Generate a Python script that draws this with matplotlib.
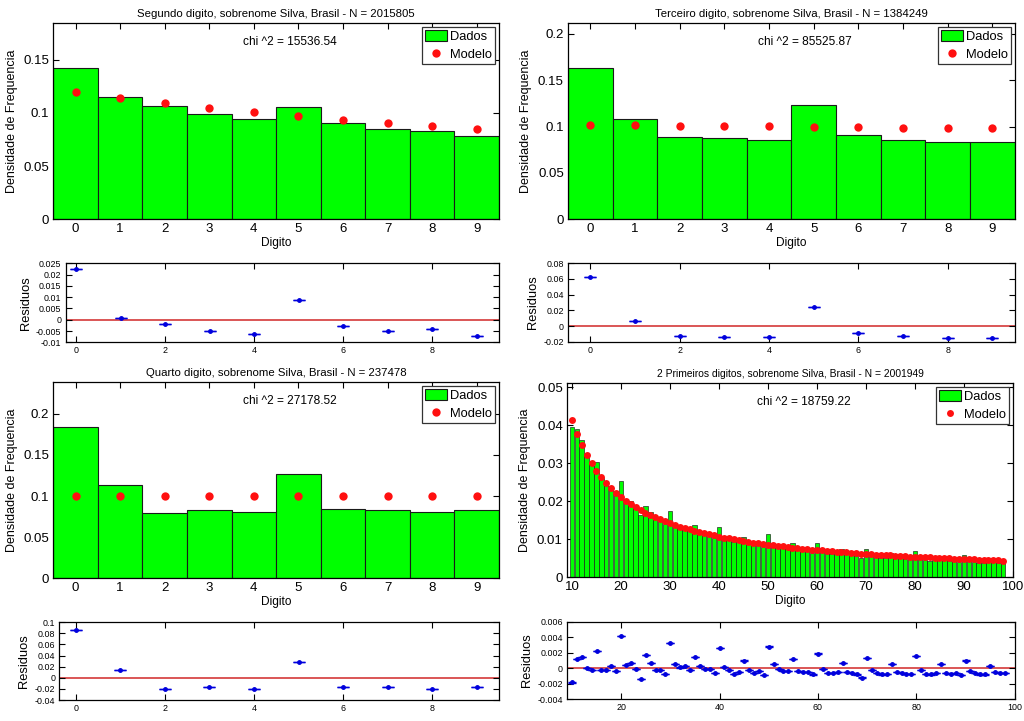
import numpy as np
import matplotlib
matplotlib.use("Agg")
import matplotlib.pyplot as plt
from matplotlib.ticker import FuncFormatter

plt.rcParams['font.family'] = ['Liberation Sans', 'DejaVu Sans']

digits = list(range(10))

# Segundo digito
seg_dados = [0.1419, 0.1146, 0.1068, 0.0993, 0.0939, 0.1052, 0.0905, 0.0852, 0.0830, 0.0780]
seg_modelo = [0.1197, 0.1139, 0.1088, 0.1043, 0.1003, 0.0967, 0.0934, 0.0904, 0.0876, 0.0850]
seg_resid = [0.0226, 0.0009, -0.0018, -0.0051, -0.0063, 0.0088, -0.0027, -0.0052, -0.0043, -0.0072]

# Terceiro digito
ter_dados = [0.1630, 0.1083, 0.0885, 0.0874, 0.0856, 0.1234, 0.0910, 0.0860, 0.0835, 0.0835]
ter_modelo = [0.1018, 0.1014, 0.1010, 0.1006, 0.1002, 0.0998, 0.0994, 0.0990, 0.0986, 0.0983]
ter_resid = [0.0620, 0.0068, -0.0128, -0.0137, -0.0145, 0.0240, -0.0086, -0.0133, -0.0150, -0.0150]

# Quarto digito
qua_dados = [0.1838, 0.1134, 0.0790, 0.0834, 0.0802, 0.1271, 0.0846, 0.0834, 0.0802, 0.0830]
qua_modelo = [0.1002, 0.1001, 0.1001, 0.1001, 0.1000, 0.1000, 0.0999, 0.0999, 0.0998, 0.0998]
qua_resid = [0.0855, 0.0133, -0.0210, -0.0169, -0.0199, 0.0277, -0.0163, -0.0169, -0.0205, -0.0169]

# 2 primeiros digitos (10..98)
pd_x = list(range(10, 99))
pd_dados = [
    0.03956, 0.03894, 0.03621, 0.03222, 0.02976, 0.03023, 0.02616, 0.02465, 0.02382, 0.02198,
    0.02539, 0.02067, 0.02001, 0.01838, 0.01637, 0.01873, 0.01707, 0.01559, 0.01504, 0.01395,
    0.01754, 0.01429, 0.01346, 0.01326, 0.01239, 0.01373, 0.01220, 0.01148, 0.01118, 0.01040,
    0.01332, 0.01067, 0.01002, 0.00928, 0.00926, 0.01055, 0.00914, 0.00854, 0.00856, 0.00787,
    0.01140, 0.00893, 0.00817, 0.00772, 0.00767, 0.00903, 0.00739, 0.00705, 0.00692, 0.00650,
    0.00908, 0.00701, 0.00635, 0.00624, 0.00623, 0.00733, 0.00603, 0.00583, 0.00554, 0.00505,
    0.00746, 0.00587, 0.00539, 0.00511, 0.00513, 0.00636, 0.00518, 0.00501, 0.00484, 0.00477,
    0.00700, 0.00513, 0.00457, 0.00441, 0.00455, 0.00559, 0.00443, 0.00427, 0.00432, 0.00396,
    0.00580, 0.00446, 0.00411, 0.00386, 0.00381, 0.00487, 0.00402, 0.00388, 0.00381]
pd_modelo = [
    0.04139, 0.03779, 0.03476, 0.03218, 0.02996, 0.02803, 0.02633, 0.02482, 0.02348, 0.02228,
    0.02119, 0.02020, 0.01931, 0.01848, 0.01773, 0.01703, 0.01639, 0.01579, 0.01524, 0.01472,
    0.01424, 0.01379, 0.01336, 0.01296, 0.01259, 0.01223, 0.01190, 0.01158, 0.01128, 0.01100,
    0.01072, 0.01047, 0.01022, 0.00998, 0.00976, 0.00955, 0.00934, 0.00914, 0.00896, 0.00877,
    0.00860, 0.00843, 0.00827, 0.00812, 0.00797, 0.00783, 0.00769, 0.00755, 0.00742, 0.00730,
    0.00718, 0.00706, 0.00695, 0.00684, 0.00673, 0.00663, 0.00653, 0.00643, 0.00634, 0.00625,
    0.00616, 0.00607, 0.00599, 0.00591, 0.00583, 0.00576, 0.00568, 0.00561, 0.00554, 0.00547,
    0.00540, 0.00533, 0.00527, 0.00521, 0.00515, 0.00509, 0.00503, 0.00497, 0.00492, 0.00486,
    0.00480, 0.00476, 0.00471, 0.00466, 0.00461, 0.00457, 0.00452, 0.00448, 0.00441]
pd_resid = [
    -0.00183, 0.00115, 0.00145, 0.00004, -0.00020, 0.00220, -0.00017, -0.00017, 0.00034, -0.00030,
    0.00420, 0.00047, 0.00070, -0.00010, -0.00136, 0.00170, 0.00068, -0.00020, -0.00020, -0.00077,
    0.00330, 0.00050, 0.00010, 0.00030, -0.00020, 0.00150, 0.00030, -0.00010, -0.00010, -0.00060,
    0.00260, 0.00020, -0.00020, -0.00070, -0.00050, 0.00100, -0.00020, -0.00060, -0.00040, -0.00090,
    0.00280, 0.00050, -0.00010, -0.00040, -0.00030, 0.00120, -0.00030, -0.00050, -0.00050, -0.00080,
    0.00190, -0.00005, -0.00060, -0.00060, -0.00050, 0.00070, -0.00050, -0.00060, -0.00080, -0.00120,
    0.00130, -0.00020, -0.00060, -0.00080, -0.00070, 0.00060, -0.00050, -0.00060, -0.00070, -0.00070,
    0.00160, -0.00020, -0.00070, -0.00080, -0.00060, 0.00050, -0.00060, -0.00070, -0.00060, -0.00090,
    0.00100, -0.00030, -0.00060, -0.00080, -0.00080, 0.00030, -0.00050, -0.00060, -0.00060]

W, H = 1024, 721


def pos(l, t, r, b):
    return [l / W, 1 - b / H, (r - l) / W, (b - t) / H]


def fmt(v, p):
    if abs(v) < 1e-12:
        return "0"
    return "%g" % round(v, 6)


def style(ax, size):
    ax.tick_params(direction="in", top=True, right=True, length=4, width=0.8,
                   labelsize=size, pad=3)
    for s in ax.spines.values():
        s.set_linewidth(0.9)
    ax.yaxis.set_major_formatter(FuncFormatter(fmt))


def main_panel(ax, x, dados, modelo, title, chi, width, msize, ylim, xlim, xticks, yticks,
               tsize=8.2, edge_lw=0.8):
    bars = ax.bar(x, dados, width=width, color="#00ff00", edgecolor="#1a1a1a",
                  linewidth=edge_lw, label="Dados", zorder=2)
    dots, = ax.plot(x, modelo, "o", color="#ff1010", markersize=msize, markeredgewidth=0,
                    label="Modelo", zorder=3)
    ax.set_xlim(xlim)
    ax.set_ylim(ylim)
    ax.set_xticks(xticks)
    ax.set_yticks(yticks)
    style(ax, 9.5)
    ax.set_title(title, fontsize=tsize, pad=4)
    ax.set_xlabel("Digito", fontsize=8.6, labelpad=1)
    ax.set_ylabel("Densidade de Frequencia", fontsize=9, labelpad=4)
    ax.text(0.53, 0.90, chi, transform=ax.transAxes, ha="center", va="center", fontsize=8.6)
    leg = ax.legend([bars, dots], ["Dados", "Modelo"], loc="upper right", fontsize=9.3,
                    frameon=True, fancybox=False, edgecolor="#333333", framealpha=1,
                    borderpad=0.25, labelspacing=0.4, handletextpad=0.2, handlelength=1.7,
                    handleheight=0.9, borderaxespad=0.3)
    leg.get_frame().set_linewidth(0.9)
    for p in leg.get_patches():
        p.set_linewidth(0.8)


def resid_panel(ax, x, resid, ylim, xlim, xticks, yticks, cap):
    ax.axhline(0, color="#d84848", linewidth=1.3, zorder=1)
    ax.errorbar(x, resid, yerr=[1e-5] * len(x), fmt=".", color="#0000dd",
                ecolor="#0000dd", markersize=5, capsize=cap, capthick=1.0,
                elinewidth=0.8, zorder=3)
    ax.set_xlim(xlim)
    ax.set_ylim(ylim)
    ax.set_xticks(xticks)
    ax.set_yticks(yticks)
    style(ax, 6.4)
    ax.set_ylabel("Residuos", fontsize=9.3, labelpad=3)


fig = plt.figure(figsize=(W / 100, H / 100), dpi=100)

ax1 = fig.add_axes(pos(53.3, 22.7, 499, 219.3))
main_panel(ax1, digits, seg_dados, seg_modelo,
           "Segundo digito, sobrenome Silva, Brasil - N = 2015805", "chi ^2 = 15536.54",
           1.0, 6, (0, 0.1846), (-0.5, 9.5), digits, [0, 0.05, 0.1, 0.15])
ax1r = fig.add_axes(pos(65.5, 263.3, 499, 342.3))
resid_panel(ax1r, digits, seg_resid, (-0.01, 0.025), (-0.24, 9.5), [0, 2, 4, 6, 8],
            np.arange(-0.01, 0.0251, 0.005), 4)

ax2 = fig.add_axes(pos(568, 22.7, 1014.7, 219.3))
main_panel(ax2, digits, ter_dados, ter_modelo,
           "Terceiro digito, sobrenome Silva, Brasil - N = 1384249", "chi ^2 = 85525.87",
           1.0, 6, (0, 0.2121), (-0.5, 9.5), digits, [0, 0.05, 0.1, 0.15, 0.2])
ax2r = fig.add_axes(pos(568, 263.3, 1014.7, 341.7))
resid_panel(ax2r, digits, ter_resid, (-0.02, 0.08), (-0.5, 9.5), [0, 2, 4, 6, 8],
            np.arange(-0.02, 0.081, 0.02), 4)

ax3 = fig.add_axes(pos(53.3, 381.7, 499, 578.3))
main_panel(ax3, digits, qua_dados, qua_modelo,
           "Quarto digito, sobrenome Silva, Brasil - N = 237478", "chi ^2 = 27178.52",
           1.0, 6, (0, 0.239), (-0.5, 9.5), digits, [0, 0.05, 0.1, 0.15, 0.2])
ax3r = fig.add_axes(pos(59.3, 622.3, 499, 700))
resid_panel(ax3r, digits, qua_resid, (-0.04, 0.1), (-0.37, 9.5), [0, 2, 4, 6, 8],
            np.arange(-0.04, 0.101, 0.02), 4)

ax4 = fig.add_axes(pos(567, 382.7, 1013, 577.3))
main_panel(ax4, pd_x, pd_dados, pd_modelo,
           "2 Primeiros digitos, sobrenome Silva, Brasil - N = 2001949", "chi ^2 = 18759.22",
           0.92, 5, (0, 0.0512), (9, 100), range(10, 101, 10),
           [0, 0.01, 0.02, 0.03, 0.04, 0.05], tsize=7.4, edge_lw=0.45)
ax4r = fig.add_axes(pos(567, 621.7, 1014.7, 699.3))
resid_panel(ax4r, pd_x, pd_resid, (-0.004, 0.006), (9, 100), [20, 40, 60, 80, 100],
            np.arange(-0.004, 0.0061, 0.002), 3)

fig.savefig("out.png", dpi=100)
